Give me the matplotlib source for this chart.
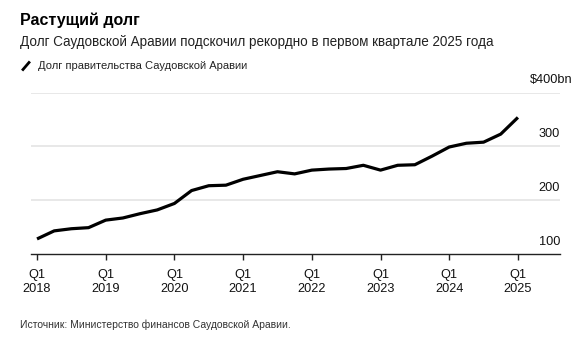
import matplotlib
matplotlib.use("Agg")
import matplotlib.pyplot as plt
from matplotlib.lines import Line2D

plt.rcParams['font.family'] = ['Liberation Sans', 'DejaVu Sans']

# Quarterly government debt, $bn, Q1 2018 .. Q1 2025
quarters = [f"Q{q} {y}" for y in range(2018, 2026) for q in range(1, 5)][:29]
debt = [128, 143, 147, 149, 163, 167, 175, 182, 194,
        218, 227, 228, 239, 246, 253, 249, 256, 258, 259,
        265, 256, 265, 266, 282, 299, 306, 308, 323, 354]

year_labels = ["2018", "2019", "2020", "2021", "2022", "2023", "2024", "2025"]
y_ticks = [100, 200, 300, 400]

title = "Растущий долг"
subtitle = "Долг Саудовской Аравии подскочил рекордно в первом квартале 2025 года"
legend_label = "Долг правительства Саудовской Аравии"
source = "Источник: Министерство финансов Саудовской Аравии."

W, H = 587, 343
fig = plt.figure(figsize=(W / 100, H / 100), dpi=100)

left_px, right_px, top_px, bottom_px = 31, 560, 92.7, 254
ax = fig.add_axes([left_px / W, 1 - bottom_px / H,
                   (right_px - left_px) / W, (bottom_px - top_px) / H])

x = list(range(len(debt)))
ax.plot(x, debt, color="#000000", lw=2.3, solid_joinstyle="round",
        solid_capstyle="butt", zorder=3)

ax.set_xlim(-0.35, 30.45)
ax.set_ylim(100, 400)

for v in y_ticks[1:]:
    ax.axhline(v, color="#e6e6e6", lw=1.3, zorder=1)

for s in ["top", "right", "left"]:
    ax.spines[s].set_visible(False)
ax.spines["bottom"].set_color("#222222")
ax.spines["bottom"].set_linewidth(1.0)

ax.set_yticks([])
tick_pos = [i * 4 for i in range(len(year_labels))]
ax.set_xticks(tick_pos)
ax.set_xticklabels([f"Q1\n{y}" for y in year_labels], fontsize=9.2,
                   color="#111111", linespacing=1.25)
ax.tick_params(axis="x", length=4, width=1, color="#222222", pad=6.5)

# y labels sit above their gridlines at the right end
trans = ax.get_yaxis_transform()
for v in y_ticks:
    if v == 400:
        ax.text((530 - left_px) / (right_px - left_px), v + 12, "$400bn",
                transform=trans, ha="left", va="bottom",
                fontsize=9.2, color="#111111")
    else:
        ax.text(1.0, v + 12, str(v), transform=trans, ha="right", va="bottom",
                fontsize=9.2, color="#111111")

fig.text(20 / W, 1 - 20 / H, title, fontsize=11.5, fontweight="bold",
         va="center", ha="left", color="#000000")
fig.text(20 / W, 1 - 42 / H, subtitle, fontsize=9.75, va="center",
         ha="left", color="#222222")

fig.lines.append(Line2D([23 / W, 29 / W], [1 - 69.5 / H, 1 - 62.5 / H],
                        transform=fig.transFigure, color="#000000", lw=2.0))
fig.text(38 / W, 1 - 66 / H, legend_label, fontsize=8.0, va="center",
         ha="left", color="#222222")

fig.text(20 / W, 1 - 325 / H, source, fontsize=7.45, va="center",
         ha="left", color="#333333")

fig.savefig("out.png", dpi=100)
